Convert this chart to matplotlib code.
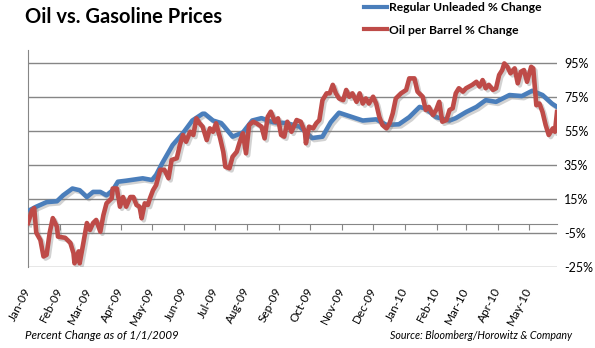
import datetime as dt
import matplotlib
matplotlib.use("Agg")
import matplotlib.pyplot as plt
import matplotlib.dates as mdates
import matplotlib.patheffects as pe
from matplotlib.lines import Line2D

plt.rcParams['font.family'] = ['Lato', 'DejaVu Sans']

base_date = dt.date(2009, 1, 1)

# Regular unleaded gasoline, % change since 1/1/2009 (day offset, percent)
gas_day = [2, 8, 18, 28, 34, 43, 50, 57, 63, 70, 76, 82, 87, 95, 111, 120, 124,
           130, 140, 150, 159, 169, 171, 179, 187, 198, 208, 217, 226, 237, 250,
           263, 275, 285, 293, 301, 311, 324, 337, 347, 359, 369, 379, 385, 395,
           408, 414, 424, 434, 443, 453, 466, 478, 488, 498, 507, 512]
gas_pct = [8.4, 10.3, 13, 13.5, 17, 21, 20, 16, 19, 19, 17, 20, 25, 25.6, 27, 26,
           29, 36, 46.6, 53.6, 61, 65, 65, 61, 59.5, 51.5, 54, 61, 62.4, 60, 59.5,
           57.4, 50.7, 51.5, 60, 65.6, 63.6, 61, 61.7, 58.4, 58.8, 63, 69, 68, 63,
           61, 62.4, 66, 69, 73, 72, 76, 75.4, 78.5, 76, 71, 69]

# Oil per barrel, % change since 1/1/2009 (day offset, percent)
oil_day = [0, 4, 6, 8, 12, 15, 18, 21, 24, 28, 29, 36, 41, 44, 45, 49, 50, 53,
           57, 60, 63, 66, 70, 73, 76, 81, 82, 86, 89, 92, 95, 99, 102, 105, 108,
           110, 113, 116, 118, 121, 124, 128, 132, 136, 139, 144, 147, 150, 153,
           157, 160, 163, 166, 169, 173, 176, 179, 182, 186, 189, 191, 195, 198,
           202, 205, 208, 211, 214, 218, 221, 226, 229, 232, 235, 239, 242, 245,
           248, 251, 255, 260, 264, 268, 269, 272, 276, 279, 282, 285, 289, 292,
           295, 298, 301, 305, 308, 311, 314, 318, 321, 324, 327, 330, 334, 337,
           340, 343, 347, 350, 353, 356, 361, 366, 369, 374, 377, 382, 385, 388,
           392, 395, 398, 401, 405, 408, 411, 414, 417, 421, 424, 427, 430, 434,
           437, 440, 443, 446, 450, 453, 456, 459, 461, 464, 467, 471, 474, 477,
           480, 483, 487, 489, 492, 495, 498, 501, 504, 508, 510, 512]
oil_pct = [0.7, 8.3, 9.5, -5, -9.3, -19, -18, -5, 3.6, -1.5, -7.3, -8, -11, -17,
           -23, -16, -23, -13, 0.7, -3.4, 0.7, 2.5, -4.4, 5.4, 12.3, 15.2, 21, 21,
           10.3, 16, 10.3, 16, 16, 11.3, 10.3, 3.5, 12.3, 11.3, 15.2, 20, 23, 32,
           32, 27, 37.8, 38.8, 46.6, 52.5, 48.5, 54.4, 52.5, 62.3, 59.4, 57.4, 49.5,
           56.4, 54.4, 59.4, 50.5, 42.6, 33.8, 32.9, 39.7, 42.6, 48.5, 53.5, 41.7,
           58.4, 60.3, 59.4, 57.4, 50.5, 63.2, 66.2, 60.3, 62.3, 52.5, 51.5, 60.3,
           54.4, 61.3, 60.3, 54.4, 47.6, 57.4, 56.4, 59.4, 61.3, 73, 77, 77, 82, 77,
           74, 73, 79, 75, 77, 72, 77, 71, 74, 71, 75, 71, 63.2, 58.4, 56.4, 59.4,
           65.2, 74, 77, 79, 85.8, 85.8, 78, 75, 67.2, 69, 64.2, 67.2, 72, 60.3,
           61.3, 67.2, 68.2, 77, 80, 78, 80, 81, 82, 83.8, 81, 84.8, 80, 82, 79, 80,
           87.8, 90.7, 94.6, 92.6, 88.8, 91.7, 82.9, 89.7, 90.7, 83.8, 92.6, 91.7,
           70, 71, 66, 58.4, 52.5, 56.4, 54.4, 66]

y_ticks = [95, 75, 55, 35, 15, -5, -25]

series_names = ["Regular Unleaded % Change", "Oil per Barrel % Change"]
title = "Oil vs. Gasoline Prices"
note_left = "Percent Change as of 1/1/2009"
note_right = "Source: Bloomberg/Horowitz & Company"

BLUE = "#4A7EBB"
RED = "#BE4B48"
GRID = "#868686"

to_dates = lambda days: [base_date + dt.timedelta(days=d) for d in days]

fig = plt.figure(figsize=(5.95, 3.48), dpi=100)
ax = fig.add_axes([28 / 595, 1 - 266.7 / 348, (557 - 28) / 595, (266.7 - 50) / 348])

shadow = [pe.SimpleLineShadow(offset=(1.5, -1.5), shadow_color="#7f7f7f", alpha=0.35),
          pe.Normal()]
ax.plot(to_dates(gas_day), gas_pct, color=BLUE, lw=3.3, solid_joinstyle="round",
        path_effects=shadow, zorder=3)
ax.plot(to_dates(oil_day), oil_pct, color=RED, lw=3.3, solid_joinstyle="round",
        path_effects=shadow, zorder=4)

ax.set_ylim(-25, 102.5)
ax.set_xlim(base_date, base_date + dt.timedelta(days=512))

# horizontal grid on the right-hand percentage scale
ax.set_yticks(y_ticks)
ax.yaxis.tick_right()
ax.yaxis.set_major_formatter(matplotlib.ticker.FuncFormatter(lambda v, p: f"{v:.0f}%"))
ax.tick_params(axis="y", length=0, pad=5, labelsize=9.0, labelcolor="#000000")
ax.grid(axis="y", color=GRID, lw=1.0)

# category axis crosses at zero
for side in ("top", "right"):
    ax.spines[side].set_visible(False)
ax.spines["left"].set_color(GRID)
ax.spines["bottom"].set_color(GRID)
ax.spines["bottom"].set_position(("data", 0))
ax.xaxis.set_major_locator(mdates.MonthLocator())
ax.xaxis.set_major_formatter(mdates.DateFormatter("%b-%y"))
ax.tick_params(axis="x", direction="out", length=4, color=GRID, pad=42, labelsize=8.5)
for lbl in ax.get_xticklabels():
    lbl.set_rotation(63)
    lbl.set_rotation_mode("anchor")
    lbl.set_ha("right")
    lbl.set_va("center")

fig.text(25 / 595, 1 - 23 / 348, title, fontsize=14.5, fontweight="bold", ha="left",
         va="baseline")

handles = [Line2D([], [], color=BLUE, lw=3), Line2D([], [], color=RED, lw=3)]
fig.legend(handles, series_names, loc="upper left", bbox_to_anchor=(353 / 595, 1.025),
           frameon=False, prop={"weight": "bold", "size": 8.7}, handlelength=1.9,
           handletextpad=0.15, labelspacing=0.95)

fig.text(25 / 595, 1 - 339 / 348, note_left, fontsize=8.3, style="italic", ha="left")
fig.text(572 / 595, 1 - 339 / 348, note_right, fontsize=7.7, style="italic", ha="right")

fig.savefig("out.png", dpi=100)
